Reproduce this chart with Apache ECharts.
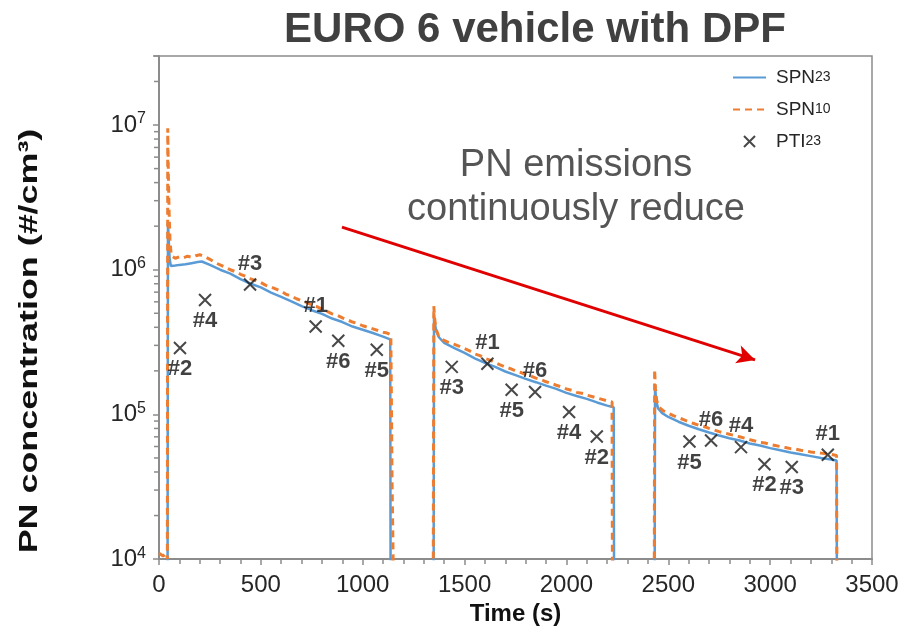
<!DOCTYPE html>
<html>
<head>
<meta charset="utf-8">
<title>EURO 6 vehicle with DPF</title>
<script src="https://cdn.jsdelivr.net/npm/echarts@6/dist/echarts.min.js"></script>
<style>
  html, body { margin: 0; padding: 0; background: #ffffff; }
  #chart { width: 902px; height: 631px; }
</style>
</head>
<body>
<div id="chart"></div>
<script>
// Time axis (s) and particle number concentrations (#/cm3).
// Values below 1e4 sit under the axis floor and are clipped away.
const TIME_SPN23 = [
  0, 42, 44, 48, 52, 58, 80, 100, 130, 160, 190, 210, 250, 300, 350, 400, 450, 500, 550, 600,
  650, 700, 750, 800, 850, 900, 950, 1000, 1050, 1100, 1135, 1137,
  1348, 1350, 1354, 1360, 1375, 1400, 1450, 1500, 1550, 1600, 1650, 1700, 1750, 1800, 1850,
  1900, 1950, 2000, 2050, 2100, 2150, 2200, 2232, 2234,
  2433, 2435, 2440, 2450, 2470, 2500, 2550, 2600, 2650, 2700, 2750, 2800, 2850, 2900, 2950,
  3000, 3050, 3100, 3150, 3200, 3250, 3300, 3326, 3328
];
const SPN23 = [
  5e3, 5e3, 2.1e6, 1.6e6, 1.2e6, 1.06e6, 1.07e6, 1.08e6, 1.09e6, 1.11e6, 1.13e6, 1.14e6, 1.08e6, 1.0e6, 9.4e5, 8.6e5, 8.0e5, 7.55e5, 6.95e5, 6.5e5,
  6.05e5, 5.6e5, 5.25e5, 4.95e5, 4.6e5, 4.35e5, 4.05e5, 3.85e5, 3.65e5, 3.45e5, 3.3e5, 5e3,
  5e3, 4.9e5, 4.3e5, 3.8e5, 3.4e5, 3.12e5, 2.87e5, 2.66e5, 2.44e5, 2.27e5, 2.13e5, 1.98e5, 1.87e5, 1.76e5, 1.67e5,
  1.58e5, 1.5e5, 1.41e5, 1.34e5, 1.28e5, 1.21e5, 1.15e5, 1.12e5, 5e3,
  5e3, 1.6e5, 1.25e5, 1.1e5, 1.02e5, 9.6e4, 8.9e4, 8.35e4, 7.9e4, 7.5e4, 7.15e4, 6.85e4, 6.6e4, 6.3e4, 6.1e4,
  5.85e4, 5.65e4, 5.45e4, 5.3e4, 5.15e4, 5.0e4, 4.88e4, 4.8e4, 5e3
];

const TIME_SPN10 = [
  0, 20, 38, 41, 43, 46, 50, 54, 60, 80, 100, 120, 140, 160, 180, 200, 225, 250, 275, 300,
  325, 350, 375, 400, 425, 450, 475, 500, 525, 550, 575, 600, 625, 650, 675, 700, 725, 750,
  775, 800, 825, 850, 875, 900, 925, 950, 975, 1000, 1025, 1050, 1075, 1100, 1120, 1138,
  1141, 1144, 1148, 1152,
  1346, 1349, 1353, 1360, 1372, 1390, 1420, 1450, 1475, 1500, 1525, 1550, 1575, 1600, 1625,
  1650, 1675, 1700, 1725, 1750, 1775, 1800, 1825, 1850, 1875, 1900, 1925, 1950, 1975, 2000,
  2025, 2050, 2075, 2100, 2125, 2150, 2175, 2200, 2224, 2226,
  2431, 2433, 2437, 2443, 2455, 2475, 2500, 2525, 2550, 2575, 2600, 2625, 2650, 2675, 2700,
  2725, 2750, 2775, 2800, 2825, 2850, 2875, 2900, 2925, 2950, 2975, 3000, 3025, 3050, 3075,
  3100, 3125, 3150, 3175, 3200, 3225, 3250, 3275, 3300, 3326, 3328
];
const SPN10 = [
  1.1e4, 1.05e4, 1.1e4, 1.0e4, 9.5e6, 4.5e6, 2.4e6, 1.6e6, 1.25e6, 1.2e6, 1.23e6, 1.21e6, 1.24e6, 1.22e6, 1.25e6, 1.27e6, 1.23e6, 1.18e6, 1.12e6, 1.08e6,
  1.04e6, 1.0e6, 9.7e5, 9.3e5, 9.0e5, 8.65e5, 8.4e5, 8.15e5, 7.8e5, 7.6e5, 7.35e5, 7.1e5, 6.75e5, 6.55e5, 6.3e5, 6.1e5, 5.95e5, 5.7e5,
  5.55e5, 5.35e5, 5.15e5, 4.95e5, 4.85e5, 4.65e5, 4.5e5, 4.35e5, 4.25e5, 4.1e5, 4.0e5, 3.9e5, 3.8e5, 3.7e5, 3.65e5, 3.55e5,
  1.2e5, 3.5e4, 1.4e4, 5e3,
  5e3, 5.6e5, 4.6e5, 3.9e5, 3.5e5, 3.3e5, 3.15e5, 3.05e5, 2.95e5, 2.85e5, 2.75e5, 2.62e5, 2.55e5, 2.44e5, 2.37e5,
  2.28e5, 2.2e5, 2.13e5, 2.07e5, 2.0e5, 1.95e5, 1.88e5, 1.84e5, 1.78e5, 1.74e5, 1.68e5, 1.64e5, 1.59e5, 1.55e5, 1.5e5,
  1.47e5, 1.42e5, 1.4e5, 1.36e5, 1.33e5, 1.3e5, 1.27e5, 1.24e5, 1.22e5, 5e3,
  5e3, 2.05e5, 1.5e5, 1.25e5, 1.12e5, 1.06e5, 1.02e5, 9.8e4, 9.5e4, 9.2e4, 8.9e4, 8.65e4, 8.4e4, 8.25e4, 8.0e4,
  7.8e4, 7.6e4, 7.45e4, 7.3e4, 7.15e4, 7.0e4, 6.85e4, 6.7e4, 6.55e4, 6.4e4, 6.35e4, 6.2e4, 6.1e4, 6.0e4, 5.9e4,
  5.8e4, 5.75e4, 5.65e4, 5.6e4, 5.5e4, 5.45e4, 5.4e4, 5.35e4, 5.3e4, 5.2e4, 5e3
];

// Periodic technical inspection measurements (PTI23) with their test numbers
const PTI_TIME  = [103, 226, 447, 769, 880, 1069, 1437, 1612, 1731, 1846, 2013, 2149, 2604, 2710, 2857, 2972, 3106, 3283];
const PTI_VALUE = [2.88e5, 6.17e5, 7.9e5, 4.05e5, 3.23e5, 2.8e5, 2.13e5, 2.24e5, 1.48e5, 1.43e5, 1.04e5, 7.03e4, 6.5e4, 6.6e4, 5.94e4, 4.52e4, 4.33e4, 5.26e4];
const PTI_LABEL = ['#2', '#4', '#3', '#1', '#6', '#5', '#3', '#1', '#5', '#6', '#4', '#2', '#5', '#6', '#4', '#2', '#3', '#1'];

// Tick labels
const X_TICKS = [0, 500, 1000, 1500, 2000, 2500, 3000, 3500];
const Y_DECADES = [1e4, 1e5, 1e6, 1e7];

// Trend arrow end points [time, concentration]
const ARROW_FROM = [898, 1.97e6];
const ARROW_TO = [2926, 2.38e5];

// ---- presentation ----
const FONT = '"Liberation Sans", Arial, sans-serif';
const AXIS_GRAY = '#8c8c8c';
const PTI_ABOVE = [false, false, true, true, false, false, false, true, false, true, false, false, false, true, true, false, false, true];

// Intermediate log ticks 2..9 x 10^k inside the axis range
const Y_MAX = 3e7;
const minorTicks = [];
Y_DECADES.forEach(function (d) {
  for (let m = 2; m <= 9; m++) {
    if (m * d <= Y_MAX) minorTicks.push([0, m * d]);
  }
});

function pairs(xs, ys) { return xs.map(function (x, i) { return [x, ys[i]]; }); }

const xPath = 'path://M0,0 L10,10 M10,0 L0,10';

const chart = echarts.init(document.getElementById('chart'), null, { renderer: 'canvas' });

chart.setOption({
  animation: false,
  backgroundColor: '#ffffff',
  textStyle: { fontFamily: FONT },
  title: {
    text: 'EURO 6 vehicle with DPF',
    left: 530,
    top: 4,
    textAlign: 'center',
    textStyle: { fontFamily: FONT, fontSize: 42, fontWeight: 'bold', color: '#404040' }
  },
  grid: {
    left: 159, right: 30, top: 56, bottom: 68,
    show: true, borderColor: AXIS_GRAY, borderWidth: 1.5, backgroundColor: 'transparent'
  },
  legend: {
    orient: 'vertical',
    left: 727,
    top: 63,
    itemWidth: 33,
    itemHeight: 11,
    itemGap: 13,
    data: [
      { name: 'SPN23', itemStyle: { opacity: 0 } },
      { name: 'SPN10', itemStyle: { opacity: 0 } },
      { name: 'PTI23' }
    ],
    formatter: function (name) {
      return '{m|' + name.replace(/\d+$/, '') + '}{s|' + name.match(/\d+$/)[0] + '}';
    },
    textStyle: {
      padding: [0, 0, 0, 5],
      rich: {
        m: { fontFamily: FONT, fontSize: 19, color: '#262626' },
        s: { fontFamily: FONT, fontSize: 14, color: '#262626' }
      }
    }
  },
  xAxis: {
    type: 'value',
    min: 0, max: 3500, interval: 500,
    name: 'Time (s)',
    nameLocation: 'middle',
    nameGap: 42,
    nameTextStyle: { fontFamily: FONT, fontSize: 24, fontWeight: 'bold', color: '#111' },
    axisLine: { show: true, lineStyle: { color: AXIS_GRAY, width: 2 } },
    axisTick: { show: true, length: 6, lineStyle: { color: AXIS_GRAY, width: 1.5 } },
    minorTick: { show: true, splitNumber: 5, length: 5, lineStyle: { color: AXIS_GRAY, width: 1.5 } },
    splitLine: { show: false },
    axisLabel: {
      margin: 14, fontFamily: FONT, fontSize: 24, color: '#262626',
      formatter: function (v) { return X_TICKS.indexOf(v) >= 0 ? String(v) : ''; }
    }
  },
  yAxis: {
    type: 'log',
    logBase: 10,
    min: 1e4, max: Y_MAX,
    axisLine: { show: true, lineStyle: { color: AXIS_GRAY, width: 2 } },
    axisTick: { show: true, length: 6, lineStyle: { color: AXIS_GRAY, width: 1.5 } },
    splitLine: { show: false },
    axisLabel: {
      margin: 13,
      formatter: function (v) {
        if (Y_DECADES.indexOf(v) < 0) return '';
        return '{b|10}{s|' + Math.round(Math.log10(v)) + '}';
      },
      rich: {
        b: { fontFamily: FONT, fontSize: 24, color: '#262626' },
        s: { fontFamily: FONT, fontSize: 16, color: '#262626', padding: [0, 0, 12, 0] }
      }
    }
  },
  graphic: [
    {
      type: 'text', x: 576, y: 166,
      style: {
        text: 'PN emissions', font: '38px ' + FONT, fill: '#555555',
        align: 'center', verticalAlign: 'middle'
      }
    },
    {
      type: 'text', x: 576, y: 210,
      style: {
        text: 'continuously reduce', font: '38px ' + FONT, fill: '#555555',
        align: 'center', verticalAlign: 'middle'
      }
    },
    {
      // axis title, drawn tall and narrow along the axis
      type: 'text', x: 30, y: 341, rotation: Math.PI / 2, scaleX: 1.38,
      style: {
        text: 'PN concentration (#/cm\u00B3)', font: 'bold 26px ' + FONT, fill: '#111111',
        align: 'center', verticalAlign: 'middle'
      }
    }
  ],
  series: [
    {
      name: 'log minor ticks',
      type: 'custom',
      silent: true,
      clip: false,
      data: minorTicks,
      renderItem: function (params, api) {
        const p = api.coord([0, api.value(1)]);
        return {
          type: 'line',
          shape: { x1: p[0] - 5, y1: p[1], x2: p[0], y2: p[1] },
          style: { stroke: AXIS_GRAY, lineWidth: 1.5 }
        };
      }
    },
    {
      name: 'SPN23',
      type: 'line',
      data: pairs(TIME_SPN23, SPN23),
      showSymbol: false,
      symbol: 'none',
      clip: true,
      lineStyle: { color: '#5b9bd5', width: 2.5 },
      itemStyle: { color: '#5b9bd5' },
      z: 2
    },
    {
      name: 'SPN10',
      type: 'line',
      data: pairs(TIME_SPN10, SPN10),
      showSymbol: false,
      symbol: 'none',
      clip: true,
      lineStyle: { color: '#ed7d31', width: 3, type: [7, 5] },
      itemStyle: { color: '#ed7d31' },
      z: 3
    },
    {
      name: 'PTI23',
      type: 'scatter',
      data: PTI_TIME.map(function (t, i) {
        return {
          value: [t, PTI_VALUE[i]],
          label: { position: PTI_ABOVE[i] ? 'top' : 'bottom' }
        };
      }),
      symbol: xPath,
      symbolSize: 12,
      itemStyle: { color: 'rgba(0,0,0,0)', borderColor: '#1a1a1a', borderWidth: 2 },
      label: {
        show: true,
        distance: 3,
        formatter: function (p) { return PTI_LABEL[p.dataIndex]; },
        fontFamily: FONT, fontSize: 22, fontWeight: 'bold', color: '#111111'
      },
      z: 5,
      markLine: {
        silent: true,
        symbol: ['none', 'arrow'],
        symbolSize: [14, 18],
        label: { show: false },
        lineStyle: { color: '#e00000', width: 3, type: 'solid' },
        data: [[{ coord: ARROW_FROM }, { coord: ARROW_TO }]]
      }
    }
  ]
});
</script>
</body>
</html>
